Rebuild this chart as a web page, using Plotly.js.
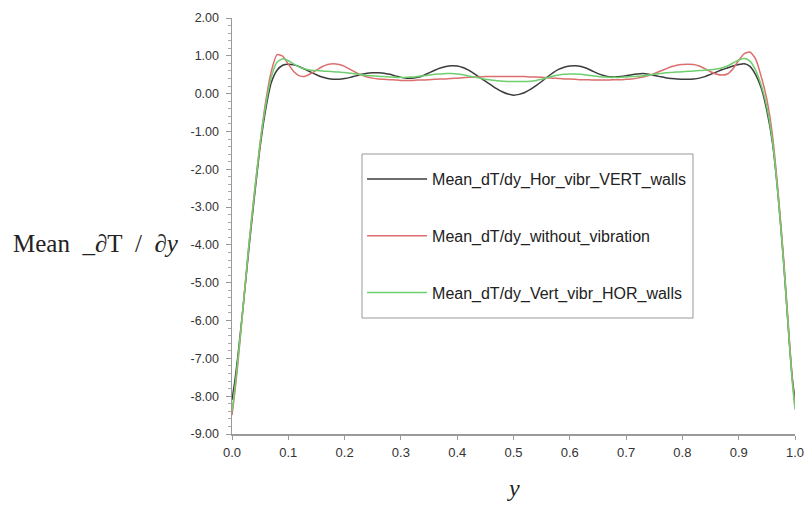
<!DOCTYPE html>
<html>
<head>
<meta charset="utf-8">
<script src="https://cdn.plot.ly/plotly-3.0.1.min.js"></script>
<style>html,body{margin:0;padding:0;background:#fff;}#chart{width:804px;height:506px;}</style>
</head>
<body>
<div id="chart"></div>
<script>
const yPos = [0,0.005,0.01,0.02,0.03,0.04,0.05,0.06,0.07,0.08,0.09,
  0.10,0.11,0.12,0.13,0.14,0.15,0.16,0.17,0.18,0.19,
  0.20,0.21,0.22,0.23,0.24,0.25,0.26,0.27,0.28,0.29,
  0.30,0.31,0.32,0.33,0.34,0.35,0.36,0.37,0.38,0.39,
  0.40,0.41,0.42,0.43,0.44,0.45,0.46,0.47,0.48,0.49,
  0.50,0.51,0.52,0.53,0.54,0.55,0.56,0.57,0.58,0.59,
  0.60,0.61,0.62,0.63,0.64,0.65,0.66,0.67,0.68,0.69,
  0.70,0.71,0.72,0.73,0.74,0.75,0.76,0.77,0.78,0.79,
  0.80,0.81,0.82,0.83,0.84,0.85,0.86,0.87,0.88,0.89,
  0.90,0.91,0.92,0.93,0.94,0.95,0.96,0.97,0.98,0.99,0.995,1.0];

const horVibrVertWalls = [-8.1,-7.6,-7.0,-5.6,-4.1,-2.7,-1.4,-0.4,0.3,0.62,0.75,
  0.78,0.76,0.71,0.64,0.57,0.50,0.44,0.40,0.38,0.38,
  0.40,0.43,0.47,0.51,0.54,0.55,0.55,0.54,0.51,0.47,
  0.43,0.41,0.41,0.43,0.48,0.55,0.62,0.68,0.72,0.74,
  0.73,0.69,0.62,0.53,0.43,0.33,0.23,0.13,0.05,-0.01,
  -0.04,-0.02,0.03,0.11,0.21,0.32,0.44,0.55,0.64,0.70,
  0.73,0.74,0.72,0.67,0.60,0.53,0.48,0.45,0.44,0.45,
  0.47,0.50,0.52,0.53,0.51,0.48,0.45,0.42,0.40,0.39,
  0.38,0.38,0.39,0.41,0.45,0.51,0.57,0.63,0.68,0.73,
  0.77,0.79,0.72,0.50,0.15,-0.45,-1.3,-2.7,-4.5,-6.6,-7.5,-8.1];

const withoutVibration = [-8.5,-7.9,-7.2,-5.6,-4.0,-2.6,-1.3,-0.2,0.6,1.03,0.99,
  0.78,0.58,0.47,0.46,0.53,0.62,0.71,0.77,0.79,0.77,
  0.72,0.64,0.56,0.49,0.44,0.41,0.39,0.38,0.37,0.36,
  0.35,0.35,0.35,0.36,0.36,0.37,0.38,0.39,0.39,0.40,
  0.41,0.42,0.43,0.44,0.44,0.45,0.45,0.45,0.45,0.45,
  0.45,0.45,0.45,0.44,0.44,0.43,0.42,0.41,0.40,0.39,
  0.39,0.38,0.37,0.37,0.36,0.36,0.36,0.36,0.37,0.37,
  0.38,0.39,0.41,0.44,0.48,0.53,0.59,0.65,0.71,0.75,
  0.77,0.78,0.77,0.73,0.66,0.58,0.52,0.49,0.52,0.66,
  0.88,1.06,1.10,0.92,0.45,-0.15,-1.1,-2.6,-4.4,-6.5,-7.5,-8.3];

const vertVibrHorWalls = [-8.4,-7.8,-7.1,-5.6,-4.0,-2.6,-1.3,-0.3,0.45,0.83,0.92,
  0.87,0.78,0.70,0.65,0.62,0.61,0.60,0.59,0.58,0.57,
  0.56,0.54,0.52,0.50,0.48,0.47,0.46,0.45,0.44,0.43,
  0.43,0.43,0.44,0.45,0.47,0.49,0.51,0.52,0.53,0.53,
  0.52,0.50,0.47,0.44,0.41,0.38,0.36,0.34,0.33,0.32,
  0.32,0.32,0.32,0.33,0.35,0.38,0.42,0.46,0.49,0.51,
  0.52,0.52,0.51,0.49,0.47,0.45,0.44,0.43,0.43,0.43,
  0.44,0.45,0.46,0.47,0.49,0.51,0.53,0.55,0.56,0.57,
  0.58,0.59,0.60,0.61,0.62,0.63,0.65,0.68,0.73,0.81,
  0.89,0.93,0.86,0.62,0.22,-0.35,-1.25,-2.7,-4.5,-6.6,-7.6,-8.35];

const seriesNames = ['Mean_dT/dy_Hor_vibr_VERT_walls','Mean_dT/dy_without_vibration','Mean_dT/dy_Vert_vibr_HOR_walls'];
const seriesValues = [horVibrVertWalls, withoutVibration, vertVibrHorWalls];
const seriesColors = ['#3c3c3c','#dc6e6e','#6dcf6d'];

const yTickVals = [2,1,0,-1,-2,-3,-4,-5,-6,-7,-8,-9];
const yTickText = ['2.00','1.00','0.00','-1.00','-2.00','-3.00','-4.00','-5.00','-6.00','-7.00','-8.00','-9.00'];
const xTickVals = [0,0.1,0.2,0.3,0.4,0.5,0.6,0.7,0.8,0.9,1.0];
const xTickText = ['0.0','0.1','0.2','0.3','0.4','0.5','0.6','0.7','0.8','0.9','1.0'];

const traces = seriesValues.map((vals, i) => ({
  x: yPos, y: vals, type: 'scatter', mode: 'lines',
  name: seriesNames[i], legendgroup: 'g' + i,
  line: {color: seriesColors[i], width: 1.5, shape: 'spline', smoothing: 0.6}
}));

const layout = {
  width: 804, height: 506,
  margin: {l: 232, r: 9, t: 18, b: 72},
  paper_bgcolor: '#ffffff', plot_bgcolor: '#ffffff',
  font: {family: 'Arial, Liberation Sans, sans-serif', color: '#333', size: 12},
  showlegend: true,
  legend: {
    x: 0.231, y: 0.6538, xanchor: 'left', yanchor: 'top',
    bgcolor: 'rgba(0,0,0,0)', borderwidth: 0,
    font: {family: 'Arial, Liberation Sans, sans-serif', size: 16, color: '#222'},
    itemwidth: 60, traceorder: 'grouped', tracegroupgap: 33
  },
  shapes: [
    {type: 'rect', xref: 'paper', yref: 'paper', x0: 0.2309, x1: 0.8188, y0: 0.2788, y1: 0.6731,
     line: {color: '#999', width: 1}, fillcolor: '#ffffff', layer: 'above'}
  ],
  xaxis: {
    range: [0, 1], tickmode: 'array', tickvals: xTickVals, ticktext: xTickText,
    showgrid: false, zeroline: false, showline: true, linecolor: '#999', linewidth: 1.5,
    ticks: 'outside', ticklen: 4, tickcolor: '#999', ticklabelstandoff: 2,
    ticklabeloverflow: 'allow',
    tickfont: {size: 13, color: '#333'}
  },
  yaxis: {
    range: [-9, 2], tickmode: 'array', tickvals: yTickVals, ticktext: yTickText,
    showgrid: false, zeroline: false, showline: true, linecolor: '#999', linewidth: 1.5,
    ticks: 'outside', ticklen: 5, tickcolor: '#999', ticklabelstandoff: 4,
    minor: {dtick: 0.2, tick0: 0, ticks: 'outside', ticklen: 3, tickcolor: '#aaa', showgrid: false},
    tickfont: {size: 12.5, color: '#333'}
  },
  annotations: [
    {xref: 'paper', yref: 'y', x: -0.392, y: -3.95, xanchor: 'left', yanchor: 'middle', showarrow: false,
     text: 'Mean&nbsp;&nbsp;_<i>∂</i>T&nbsp;&nbsp;/&nbsp;&nbsp;<i>∂y</i>', font: {family: 'Liberation Serif, Times New Roman, serif', size: 25, color: '#222'}},
    {xref: 'x', yref: 'paper', x: 0.5, y: -0.13, xanchor: 'center', yanchor: 'middle', showarrow: false,
     text: '<i>y</i>', font: {family: 'Liberation Serif, Times New Roman, serif', size: 24, color: '#222'}}
  ]
};

Plotly.newPlot('chart', traces, layout, {displayModeBar: false, staticPlot: true});
</script>
</body>
</html>
